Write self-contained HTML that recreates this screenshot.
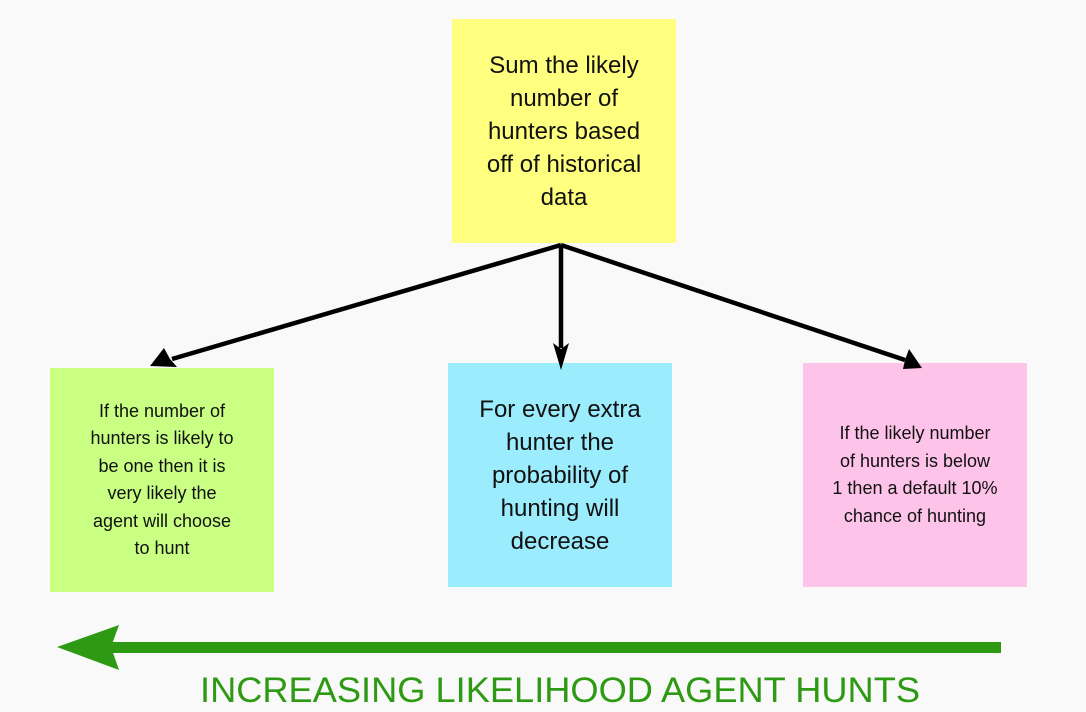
<!DOCTYPE html>
<html><head><style>
body{margin:0;width:1086px;height:712px;background:#f9f9f9;position:relative;overflow:hidden;font-family:"Liberation Sans",sans-serif;}
.b{position:absolute;width:224px;height:224px;display:flex;align-items:center;justify-content:center;text-align:center;color:#111;box-sizing:border-box;padding:0 4px;white-space:nowrap;}
</style></head><body>
<div class="b" style="left:452px;top:19px;background:#ffff7f;font-size:24px;line-height:33px;">Sum the likely<br>number of<br>hunters based<br>off of historical<br>data</div>
<div class="b" style="left:50px;top:368px;background:#c9ff83;font-size:18px;line-height:27.5px;">If the number of<br>hunters is likely to<br>be one then it is<br>very likely the<br>agent will choose<br>to hunt</div>
<div class="b" style="left:448px;top:363px;background:#9becfc;font-size:24px;line-height:33px;">For every extra<br>hunter the<br>probability of<br>hunting will<br>decrease</div>
<div class="b" style="left:803px;top:363px;background:#fec3e9;font-size:18px;line-height:27.5px;">If the likely number<br>of hunters is below<br>1 then a default 10%<br>chance of hunting</div>
<svg width="1086" height="712" style="position:absolute;left:0;top:0">
<g stroke="#000" stroke-width="4.5" fill="none">
<line x1="561" y1="245" x2="172" y2="359"/>
<line x1="561" y1="245" x2="561" y2="348"/>
<line x1="561" y1="245" x2="905" y2="360"/>
</g>
<polygon points="150,366 164,348 170,359 177,367" fill="#000"/>
<polygon points="561,370 553,343 561,349 569,343" fill="#000"/>
<polygon points="922,368 903,369 905,360 909,349" fill="#000"/>
<rect x="98" y="642" width="903" height="11" fill="#2e9a13"/>
<polygon points="57,647 119,625 111,647 119,670" fill="#2e9a13"/>
<text x="560" y="702" text-anchor="middle" font-family="Liberation Sans" font-size="35" fill="#2e9a13" textLength="720" lengthAdjust="spacingAndGlyphs">INCREASING LIKELIHOOD AGENT HUNTS</text>
</svg>
</body></html>
